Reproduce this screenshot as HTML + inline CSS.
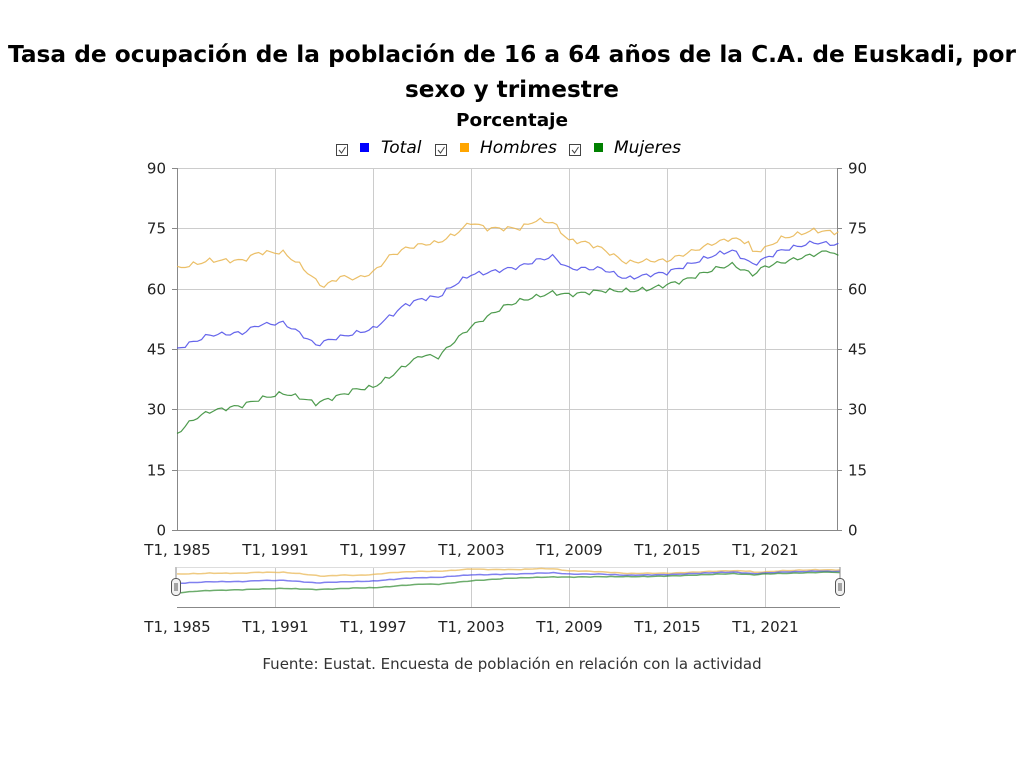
<!DOCTYPE html>
<html><head><meta charset="utf-8"><style>
html,body{margin:0;padding:0;background:#fff;width:1024px;height:768px;overflow:hidden}
svg text{font-family:"DejaVu Sans","Liberation Sans",sans-serif}
</style></head><body>
<svg id="s" width="1024" height="768" xmlns="http://www.w3.org/2000/svg">
<text x="512" y="62" text-anchor="middle" font-size="23" font-weight="bold" textLength="1008" lengthAdjust="spacingAndGlyphs">Tasa de ocupación de la población de 16 a 64 años de la C.A. de Euskadi, por</text>
<text x="512" y="97" text-anchor="middle" font-size="23" font-weight="bold" textLength="214" lengthAdjust="spacingAndGlyphs">sexo y trimestre</text>
<text x="512" y="126" text-anchor="middle" font-size="18" font-weight="bold" textLength="112" lengthAdjust="spacingAndGlyphs">Porcentaje</text>
<g font-size="17" font-style="italic">
<rect x="336.5" y="144.5" width="11" height="11" fill="#fff" stroke="#444"/><path d="M339 150l2.5 3 4-6" fill="none" stroke="#444"/>
<rect x="360" y="143" width="9" height="9" fill="#0000ff"/><text x="381" y="153">Total</text>
<rect x="435.5" y="144.5" width="11" height="11" fill="#fff" stroke="#444"/><path d="M438 150l2.5 3 4-6" fill="none" stroke="#444"/>
<rect x="460" y="143" width="9" height="9" fill="#ffa500"/><text x="480" y="153">Hombres</text>
<rect x="569.5" y="144.5" width="11" height="11" fill="#fff" stroke="#444"/><path d="M572 150l2.5 3 4-6" fill="none" stroke="#444"/>
<rect x="594" y="143" width="9" height="9" fill="#008000"/><text x="614" y="153">Mujeres</text>
</g>
<g id="grid" stroke="#ccc" stroke-width="1"></g>
<g id="lab" font-size="15" fill="#222"></g>
<g id="ser" fill="none"></g>
<text x="512" y="669" text-anchor="middle" font-size="15" fill="#333">Fuente: Eustat. Encuesta de población en relación con la actividad</text>
</svg>
<script>
var NS="http://www.w3.org/2000/svg";
function el(p,t,a,txt){var e=document.createElementNS(NS,t);for(var k in a)e.setAttribute(k,a[k]);if(txt!=null)e.textContent=txt;document.getElementById(p).appendChild(e);return e;}
var X0=177,PX=16.33,Y0=530,PY=362/90;
for(var i=0;i<=6;i++){var y=Math.round(Y0-i*15*PY)+0.5;
 el('grid','line',{x1:X0,x2:837,y1:y,y2:y,stroke:i==0?'#888':'#ccc'});
 el('grid','line',{x1:X0-5,x2:X0,y1:y,y2:y,stroke:'#888'});
 el('grid','line',{x1:837,x2:842,y1:y,y2:y,stroke:'#888'});
 el('lab','text',{x:166,y:y+5,'text-anchor':'end'},String(i*15));
 el('lab','text',{x:848,y:y+5},String(i*15));}
el('grid','line',{x1:177.5,x2:177.5,y1:168,y2:530,stroke:'#888'});
el('grid','line',{x1:837.5,x2:837.5,y1:168,y2:530,stroke:'#888'});
var yrs=[1985,1991,1997,2003,2009,2015,2021];
yrs.forEach(function(yr,i){var x=Math.round(X0+i*98)+0.5;
 if(i>0){el('grid','line',{x1:x,x2:x,y1:168,y2:530});el('grid','line',{x1:x,x2:x,y1:567,y2:607});}
 el('lab','text',{x:x,y:555,'text-anchor':'middle'},'T1, '+yr);
 el('lab','text',{x:x,y:632,'text-anchor':'middle'},'T1, '+yr);});
el('grid','line',{x1:177,x2:840,y1:607.5,y2:607.5,stroke:'#888'});
el('grid','line',{x1:177,x2:840,y1:567.5,y2:567.5,stroke:'#ddd'});
var H=[[1985,65],[1987,67],[1989,67],[1990,69],[1991.5,69],[1992.5,66],[1993.5,62],[1994,60.5],[1995,63],[1996,62.5],[1997,64],[1998,68],[1999,70],[2000,71],[2001,71.5],[2002,73.5],[2003,76.5],[2004,75],[2006,75],[2007,77],[2008,76.5],[2009,72],[2010,71.5],[2011,70],[2012.5,66.5],[2014,67],[2015,67],[2016,68.5],[2017,70],[2018,71.5],[2019,72.5],[2020,71.5],[2020.25,69],[2021,70],[2022,72.5],[2023,73.5],[2024,74.5],[2025.4,74]];
var T=[[1985,45],[1987,48.5],[1989,49],[1990,51],[1991.5,51.5],[1992.5,49],[1993.5,46],[1994.5,47.5],[1996,49],[1997,50],[1998,53],[1999,56],[2000,57.5],[2001,58],[2002,61],[2003,63.5],[2004,64],[2006,65.5],[2007,67],[2008,68],[2009,65],[2011,65],[2012.5,62.5],[2014,63.5],[2015,64],[2016,65.5],[2017,67],[2018,68.5],[2019,69.5],[2020.25,66],[2021,67.5],[2022,69.5],[2023,70.5],[2024,71.5],[2025.4,71]];
var M=[[1985,24],[1986,27.5],[1987,29.5],[1989,31],[1990,32.5],[1991.5,34],[1992.5,33],[1993.5,31.5],[1995,33.5],[1996,35],[1997,35.5],[1998,38],[1999,41],[2000,43.5],[2001,43],[2002,47],[2003,50.5],[2004,53],[2005,55.5],[2006,57],[2007,58],[2008,59],[2009,58.5],[2011,59.5],[2013,59.5],[2014,60],[2015,61],[2016,62],[2017,63.5],[2018,65],[2019,66],[2020.25,63.5],[2021,65.5],[2022,66.5],[2023,67.5],[2024,68.5],[2025,69.5],[2025.4,68]];
function interp(P,t){for(var i=0;i<P.length-1;i++){if(t<=P[i+1][0]){var a=P[i],b=P[i+1];return a[1]+(b[1]-a[1])*(t-a[0])/(b[0]-a[0]);}}return P[P.length-1][1];}
function draw(P,col,seed){var pts=[],nav=[];
 for(var q=0;q<=162;q++){var t=1985+q/4;var v=interp(P,t)+0.45*Math.sin(q*1.7+seed)+0.2*Math.sin(q*3.1+seed*2);
  var x=X0+q*PX/4;pts.push(x.toFixed(1)+','+(Y0-v*PY).toFixed(1));
  var nx=177+q*(663/162);nav.push(nx.toFixed(1)+','+(593-(v-24)*0.46).toFixed(1));}
 el('ser','polyline',{points:pts.join(' '),stroke:col,'stroke-width':1.2,opacity:0.85});
 el('ser','polyline',{points:nav.join(' '),stroke:col,'stroke-width':1.5,opacity:0.7});}
draw(H,'#e8b44c',1);draw(T,'#4a4ae8',2);draw(M,'#2f8a2f',3);
[176,840].forEach(function(x){el('ser','rect',{x:x-4.5,y:578.5,width:9,height:17,rx:4,fill:'#f2f2f2',stroke:'#555'});
 el('ser','line',{x1:x-1,x2:x-1,y1:583,y2:591,stroke:'#555'});el('ser','line',{x1:x+1,x2:x+1,y1:583,y2:591,stroke:'#555'});
 el('ser','line',{x1:x,x2:x,y1:567,y2:578,stroke:'#888'});});
</script>
</body></html>
